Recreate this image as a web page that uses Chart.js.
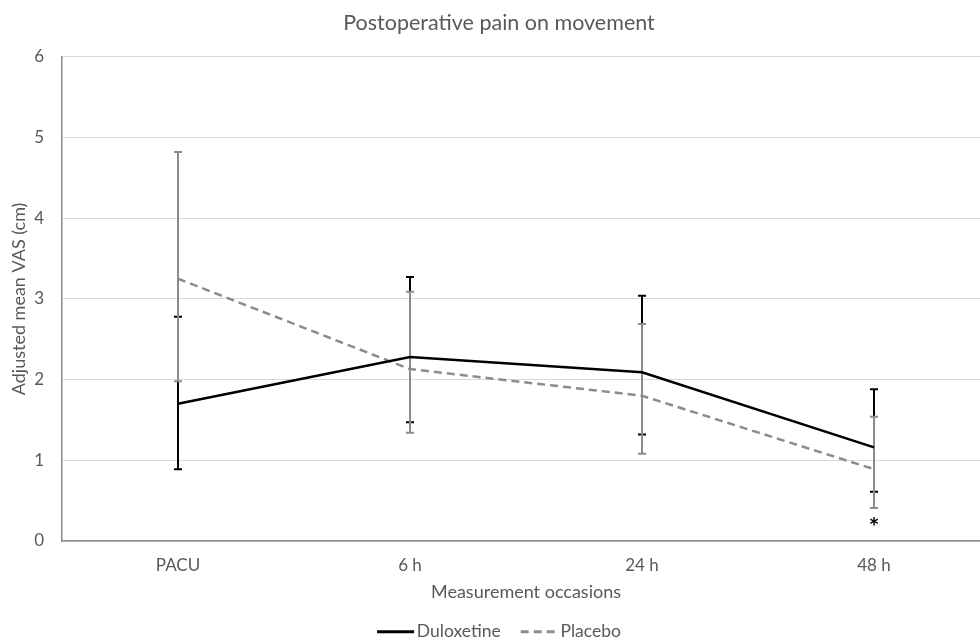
<!DOCTYPE html>
<html>
<head>
<meta charset="utf-8">
<script src="https://cdn.jsdelivr.net/npm/chart.js@4/dist/chart.umd.min.js"></script>
<style>
  html, body { margin: 0; padding: 0; background: #fff; overflow: hidden; }
  #wrap { width: 994px; height: 643px; }
</style>
</head>
<body>
<div id="wrap"><canvas id="c" width="994" height="643"></canvas></div>
<script>
// Measurement occasions and adjusted mean VAS (cm) with interval limits
const categories = ['PACU', '6 h', '24 h', '48 h'];
const duloxetineMean = [1.70, 2.28, 2.09, 1.16];
const duloxetineLow  = [0.89, 1.47, 1.32, 0.61];
const duloxetineHigh = [2.78, 3.27, 3.04, 1.88];
const placeboMean = [3.25, 2.13, 1.80, 0.89];
const placeboLow  = [1.98, 1.34, 1.08, 0.41];
const placeboHigh = [4.82, 3.09, 2.69, 1.54];
const significance = ['', '', '', '*'];
const yTicks = [0, 1, 2, 3, 4, 5, 6];

const FONT = "Lato, 'Open Sans', sans-serif";
const TEXT = '#595959';
const SAMPLE_LEN = 37;

// Vertical interval bars with caps, drawn under the lines
const errorBars = {
  id: 'errorBars',
  beforeDatasetsDraw(chart) {
    const { ctx, scales: { x, y } } = chart;
    chart.data.datasets.forEach((ds, i) => {
      const meta = chart.getDatasetMeta(i);
      if (meta.hidden) return;
      ctx.save();
      ctx.strokeStyle = ds.errorColor;
      ctx.lineWidth = 2;
      ctx.setLineDash([]);
      ds.data.forEach((v, j) => {
        const px = x.getPixelForValue(j);
        const yl = y.getPixelForValue(ds.low[j]);
        const yh = y.getPixelForValue(ds.high[j]);
        ctx.beginPath();
        ctx.moveTo(px, yl); ctx.lineTo(px, yh);
        ctx.moveTo(px - 4, yl); ctx.lineTo(px + 4, yl);
        ctx.moveTo(px - 4, yh); ctx.lineTo(px + 4, yh);
        ctx.stroke();
      });
      ctx.restore();
    });
  },
  afterDatasetsDraw(chart) {
    const { ctx, scales: { x, y } } = chart;
    ctx.save();
    ctx.fillStyle = '#000';
    ctx.font = "bold 25px " + FONT;
    ctx.textAlign = 'center';
    ctx.textBaseline = 'middle';
    significance.forEach((s, j) => {
      if (!s) return;
      const lowest = Math.min(duloxetineLow[j], placeboLow[j]);
      ctx.fillText(s, x.getPixelForValue(j), y.getPixelForValue(lowest) + 20);
    });
    ctx.restore();
  }
};

// Line samples (solid / dashed) in front of each legend label
const legendLines = {
  id: 'legendLines',
  afterDraw(chart) {
    const lg = chart.legend;
    if (!lg || !lg.legendHitBoxes) return;
    const { ctx } = chart;
    lg.legendHitBoxes.forEach((box, i) => {
      const ds = chart.data.datasets[i];
      const cy = box.top + box.height / 2;
      ctx.save();
      ctx.strokeStyle = ds.borderColor;
      ctx.lineWidth = 3;
      ctx.setLineDash(ds.borderDash || []);
      ctx.beginPath();
      ctx.moveTo(box.left, cy);
      ctx.lineTo(box.left + SAMPLE_LEN, cy);
      ctx.stroke();
      ctx.restore();
    });
  }
};

new Chart(document.getElementById('c'), {
  type: 'line',
  data: {
    labels: categories,
    datasets: [
      {
        label: 'Duloxetine',
        data: duloxetineMean,
        low: duloxetineLow,
        high: duloxetineHigh,
        errorColor: '#000000',
        borderColor: '#000000',
        backgroundColor: '#000000',
        borderWidth: 2.5,
        pointRadius: 0,
        tension: 0
      },
      {
        label: 'Placebo',
        data: placeboMean,
        low: placeboLow,
        high: placeboHigh,
        errorColor: '#8c8c8c',
        borderColor: '#8c8c8c',
        backgroundColor: '#8c8c8c',
        borderWidth: 2.5,
        borderDash: [8, 5],
        pointRadius: 0,
        tension: 0
      }
    ]
  },
  options: {
    responsive: false,
    animation: false,
    layout: { padding: { left: 8, right: 4, top: 0, bottom: 0 } },
    plugins: {
      title: {
        display: true,
        text: 'Postoperative pain on movement',
        color: TEXT,
        font: { family: FONT, size: 21.5, weight: 'normal' },
        padding: { top: 10, bottom: 21 }
      },
      legend: {
        position: 'bottom',
        maxHeight: 40,
        labels: {
          color: TEXT,
          font: { family: FONT, size: 17.5 },
          boxWidth: 31,
          boxHeight: 10,
          padding: 20,
          generateLabels(chart) {
            return chart.data.datasets.map((ds, i) => ({
              text: ds.label,
              datasetIndex: i,
              fillStyle: 'rgba(0,0,0,0)',
              strokeStyle: 'rgba(0,0,0,0)',
              lineWidth: 0,
              fontColor: TEXT,
              hidden: false
            }));
          }
        }
      },
      tooltip: { enabled: false }
    },
    scales: {
      x: {
        type: 'category',
        offset: true,
        grid: { display: false, drawTicks: false, tickLength: 0 },
        border: { color: '#8c8c8c', width: 1.5 },
        ticks: { color: TEXT, font: { family: FONT, size: 17 }, padding: 14 },
        title: {
          display: true,
          text: 'Measurement occasions',
          color: TEXT,
          font: { family: FONT, size: 18 },
          padding: { top: -8, bottom: 0 }
        }
      },
      y: {
        min: 0,
        max: 6,
        afterBuildTicks(scale) { scale.ticks = yTicks.map(v => ({ value: v })); },
        afterFit(scale) { scale.width = 54; },
        grid: { color: '#d9d9d9', lineWidth: 1, drawTicks: false },
        border: { color: '#8c8c8c', width: 1.5 },
        ticks: { color: TEXT, font: { family: FONT, size: 17 }, padding: 18 },
        title: {
          display: true,
          text: 'Adjusted mean VAS (cm)',
          color: TEXT,
          font: { family: FONT, size: 18 },
          padding: { top: 0, bottom: 4 }
        }
      }
    }
  },
  plugins: [errorBars, legendLines]
});
</script>
</body>
</html>
